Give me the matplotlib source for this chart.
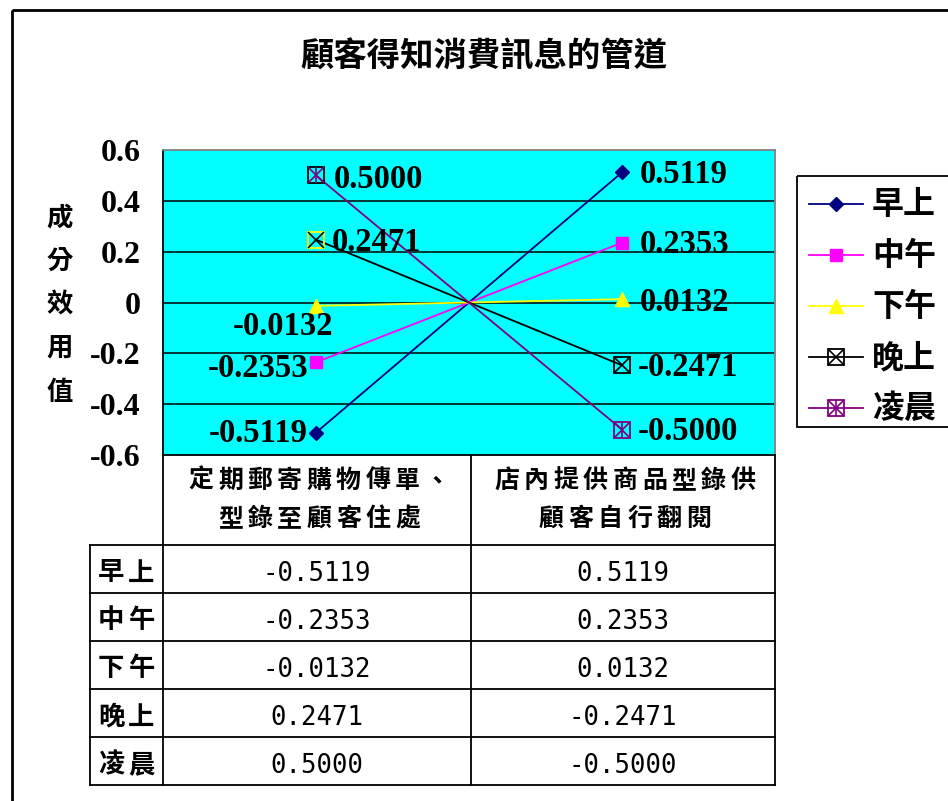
import matplotlib
matplotlib.use('Agg')
import matplotlib.pyplot as plt
from matplotlib.patches import Rectangle

plt.rcParams['font.family'] = ['Noto Sans CJK TC', 'DejaVu Sans']

# ---- data ----
title = '顧客得知消費訊息的管道'
y_label = '成分效用值'
categories = [['定期郵寄購物傳單、', '型錄至顧客住處'],
              ['店內提供商品型錄供', '顧客自行翻閱']]
series_names = ['早上', '中午', '下午', '晚上', '凌晨']
morning = [-0.5119, 0.5119]
noon = [-0.2353, 0.2353]
afternoon = [-0.0132, 0.0132]
evening = [0.2471, -0.2471]
dawn = [0.5000, -0.5000]
y_ticks = [-0.6, -0.4, -0.2, 0, 0.2, 0.4, 0.6]
y_tick_labels = ['-0.6', '-0.4', '-0.2', '0', '0.2', '0.4', '0.6']

series = [morning, noon, afternoon, evening, dawn]

# ---- styles ----
colors = ['#000080', '#FF00FF', '#FFFF00', '#000000', '#800080']
markers = ['D', 's', '^', 'boxx', 'boxstar']
box_edges = [None, None, None, ['#FFFF00', '#000000'], ['#000000', '#800080']]
# label placement per series and category: (dx px, dy px downward, ha)
label_pos = [
    [(-8, 1, 'right'), (18, 2, 'left')],
    [(-8, 6, 'right'), (18, 2, 'left')],
    [(17, 21, 'right'), (18, 3, 'left')],
    [(16, 3, 'left'), (16, 2, 'left')],
    [(18, 4, 'left'), (16, 2, 'left')],
]
LABEL_SIZE = 23.5

W, H = 948, 801
fig = plt.figure(figsize=(W / 100, H / 100), dpi=100)


def fbox(x0, y0, x1, y1):
    return [x0 / W, 1 - y1 / H, (x1 - x0) / W, (y1 - y0) / H]


# full-figure canvas in pixel units for frame, table and legend
cv = fig.add_axes([0, 0, 1, 1], zorder=0)
cv.set_xlim(0, W)
cv.set_ylim(H, 0)
cv.axis('off')


def spaced_text(ax, cx, cy, s, pitch, **kw):
    """Draw a string one glyph at a time with a fixed character pitch."""
    n = len(s)
    for i, ch in enumerate(s):
        ax.text(cx + (i - (n - 1) / 2) * pitch, cy, ch, ha='center',
                va='center', **kw)


# chart frame
cv.add_patch(Rectangle((12, 10), 1000, 900, fill=False, ec='black', lw=2.0,
                       clip_on=False))

# title
cv.text(484, 57, title, ha='center', va='center', fontsize=24,
        fontweight='bold')

# vertical axis title
for i, ch in enumerate(y_label):
    cv.text(60, 218 + i * 43.5, ch, ha='center', va='center', fontsize=19,
            fontweight='bold')


def draw_marker(ax, x, y, kind, color, edge=None, **kw):
    edge = edge or color
    if kind == 'D':
        ax.plot([x], [y], ls='none', marker='D', ms=6.8, mfc=color, mec=color, **kw)
    elif kind == 's':
        ax.plot([x], [y], ls='none', marker='s', ms=8.4, mfc=color, mec=color, **kw)
    elif kind == '^':
        ax.plot([x], [y], ls='none', marker='^', ms=9.6, mfc=color, mec=color, **kw)
    else:
        ax.plot([x], [y], ls='none', marker='s', ms=12, mfc='none', mec=edge,
                mew=1.3, **kw)
        ax.plot([x], [y], ls='none', marker='x', ms=11, mec=color, mew=1.2, **kw)
        if kind == 'boxstar':
            ax.plot([x], [y], ls='none', marker='|', ms=11, mec=color, mew=1.2, **kw)


# ---- main plot ----
ax = fig.add_axes(fbox(163, 150, 775, 455), zorder=1)
ax.set_facecolor('#00FFFF')
ax.set_xlim(-0.5, 1.5)
ax.set_ylim(-0.6, 0.6)
ax.set_xticks([])
ax.set_yticks(y_ticks)
ax.set_yticklabels(y_tick_labels, fontfamily='Liberation Serif',
                   fontweight='bold', fontsize=23)
ax.tick_params(axis='y', length=0, pad=16)
for yv in y_ticks[1:-1]:
    ax.axhline(yv, color='black', lw=1.1, zorder=1)
ax.spines['left'].set_color('black')
ax.spines['bottom'].set_color('black')
ax.spines['top'].set_color('#808080')
ax.spines['right'].set_color('#808080')
for s in ax.spines.values():
    s.set_linewidth(1.3)

xs = list(range(len(categories)))
for k, vals in enumerate(series):
    ax.plot(xs, vals, color=colors[k], lw=1.3, zorder=3)
    for i, v in enumerate(vals):
        edge = box_edges[k][i] if box_edges[k] else None
        draw_marker(ax, xs[i], v, markers[k], colors[k], edge, zorder=4)
        dx, dy, ha = label_pos[k][i]
        ax.annotate(f'{v:.4f}', (xs[i], v), xytext=(dx, -dy),
                    textcoords='offset pixels', ha=ha, va='center',
                    fontfamily='Liberation Serif', fontweight='bold',
                    fontsize=LABEL_SIZE, zorder=5, annotation_clip=False)

# ---- data table ----
col_x = [163, 471, 775]
row_y = [545, 593, 641, 689, 737, 785]
lw_t = 1.3
for x in col_x:
    cv.plot([x, x], [455, row_y[-1]], color='black', lw=lw_t)
cv.plot([90, 90], [row_y[0], row_y[-1]], color='black', lw=lw_t)
for y in row_y:
    cv.plot([90, col_x[-1]], [y, y], color='black', lw=lw_t)

for c, lines in enumerate(categories):
    cx = (col_x[c] + col_x[c + 1]) / 2
    for j, line in enumerate(lines):
        spaced_text(cv, cx + 2, 481 + j * 38, line, 29.5, fontsize=18,
                    fontweight='bold')

for r, name in enumerate(series_names):
    cy = (row_y[r] + row_y[r + 1]) / 2 + 4
    spaced_text(cv, 126, cy, name, 30, fontsize=19, fontweight='bold')
    for c, v in enumerate(series[r]):
        cx = (col_x[c] + col_x[c + 1]) / 2
        cv.text(cx, cy + 1, f'{v:.4f}', ha='center', va='center', fontsize=18.5,
                fontfamily='DejaVu Sans Mono')

# ---- legend ----
cv.add_patch(Rectangle((797, 176), 300, 251, fill=False, ec='black', lw=1.3,
                       clip_on=False))
for k, name in enumerate(series_names):
    ly = 204 + k * 51
    cv.plot([809, 863], [ly, ly], color=colors[k], lw=1.3)
    draw_marker(cv, 836, ly, markers[k], colors[k])
    cv.text(872, ly + 1, name, ha='left', va='center', fontsize=23,
            fontweight='bold', clip_on=False)

fig.savefig('out.png', dpi=100)
